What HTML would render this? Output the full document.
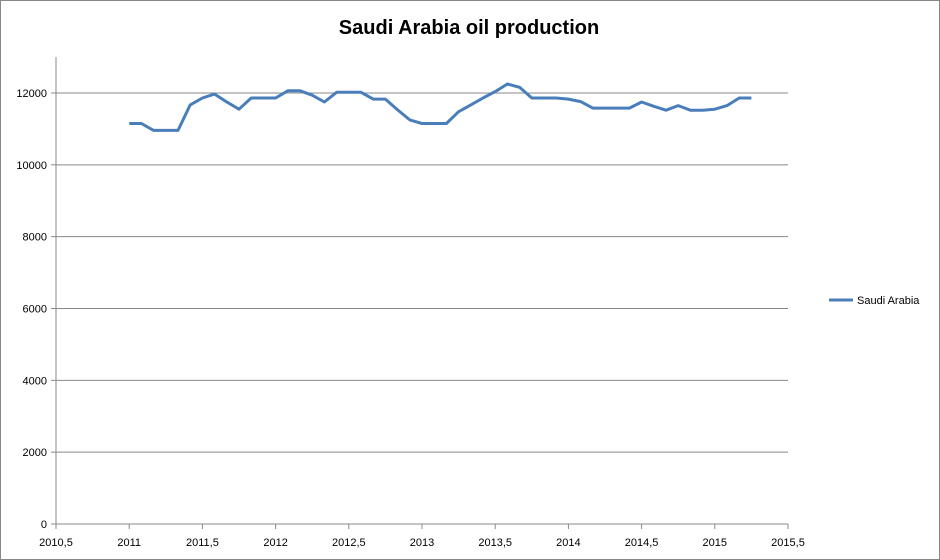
<!DOCTYPE html>
<html><head><meta charset="utf-8"><style>
body{margin:0;background:#fff;}
svg{display:block;font-family:"Liberation Sans",Arial,sans-serif;}
</style></head><body>
<svg width="940" height="560">
<rect x="0.5" y="0.5" width="939" height="559" fill="#fff" stroke="#888"/>
<text x="469" y="34" text-anchor="middle" font-size="20" font-weight="bold">Saudi Arabia oil production</text>
<g id="grid"></g><g id="xaxis"></g><g id="yaxis"></g><g id="series"></g>
<g>
<line x1="829" y1="300" x2="853" y2="300" stroke="#4a7ebb" stroke-width="3"/>
<text x="857" y="304" font-size="11">Saudi Arabia</text>
</g>
</svg>
<script>
const yTicks=[0,2000,4000,6000,8000,10000,12000];
const xTicks=[2010.5,2011,2011.5,2012,2012.5,2013,2013.5,2014,2014.5,2015,2015.5];
const xTickLabels=["2010,5","2011","2011,5","2012","2012,5","2013","2013,5","2014","2014,5","2015","2015,5"];
const startYear=2011;
const values=[11150,11150,10960,10960,10960,11670,11860,11970,11750,11550,11860,11860,
11860,12060,12060,11940,11750,12020,12020,12020,11830,11830,11530,11250,
11150,11150,11150,11480,11670,11860,12040,12250,12160,11860,11860,11860,
11830,11760,11580,11580,11580,11580,11750,11630,11520,11650,11520,11520,
11550,11650,11860,11860];
const NS="http://www.w3.org/2000/svg";
const X0=56,X1=788,Y0=524,PX=(X1-X0)/5;
const xs=v=>X0+(v-2010.5)*PX;
const ys=v=>Y0-v*(431/12000);
function mk(t,a,p){const e=document.createElementNS(NS,t);for(const k in a)e.setAttribute(k,a[k]);p.appendChild(e);return e;}
const g=document.getElementById('grid'),xa=document.getElementById('xaxis'),ya=document.getElementById('yaxis'),se=document.getElementById('series');
yTicks.forEach(t=>{
 if(t>0){const l=mk('line',{x1:X0,x2:X1,y1:ys(t),y2:ys(t),stroke:'#888','stroke-width':1},g);
 
 }
 mk('line',{x1:X0-5,x2:X0,y1:ys(t),y2:ys(t),stroke:'#888'},ya);
 const tx=mk('text',{x:X0-9,y:ys(t)+4,'text-anchor':'end','font-size':11},ya);tx.textContent=t;
 
 
});
mk('line',{x1:X0,x2:X0,y1:57,y2:Y0,stroke:'#888'},ya);
mk('line',{x1:X0,x2:X1,y1:Y0,y2:Y0,stroke:'#888'},xa);
xTicks.forEach((t,i)=>{
 mk('line',{x1:xs(t),x2:xs(t),y1:Y0,y2:Y0+5,stroke:'#888'},xa);
 const tx=mk('text',{x:xs(t),y:Y0+22,'text-anchor':'middle','font-size':11},xa);tx.textContent=xTickLabels[i];
 
 
});
const pts=values.map((v,i)=>xs(startYear+i/12).toFixed(1)+','+ys(v).toFixed(1)).join(' ');
const pl=mk('polyline',{points:pts,fill:'none',stroke:'#4a7ebb','stroke-width':3,'stroke-linejoin':'round'},se);


</script>
</body></html>
